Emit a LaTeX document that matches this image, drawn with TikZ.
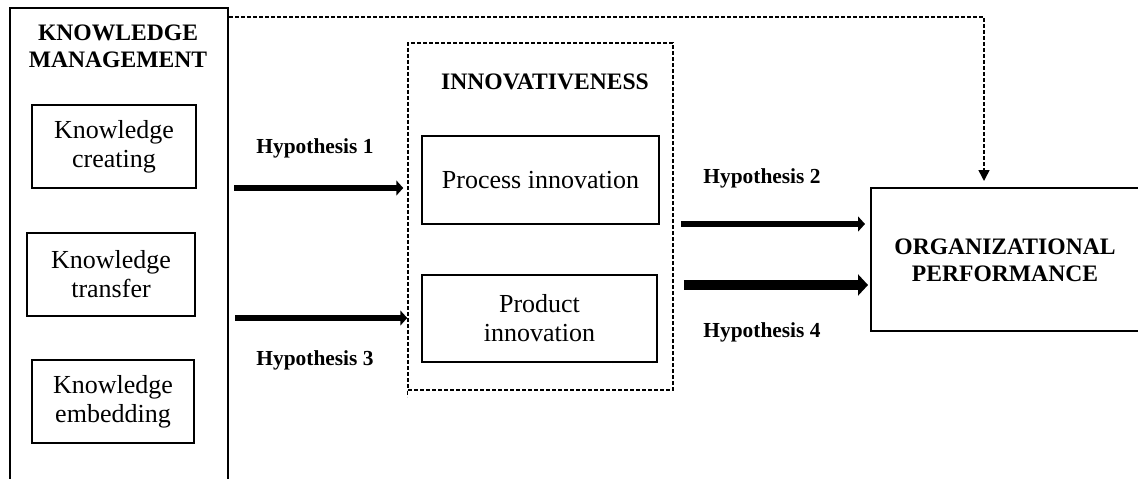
\documentclass[tikz,border=0pt]{standalone}
\usepackage{fontspec}
\setmainfont{Liberation Serif}
\usetikzlibrary{arrows.meta}

\tikzset{
  box/.style={draw, line width=2pt, inner sep=0pt, align=center,
    font=\fontsize{26}{29}\selectfont},
  group/.style={draw, dashed, line width=1.5pt, dash pattern=on 4pt off 2pt, inner sep=0pt},
  heading/.style={align=center, inner sep=0pt, font=\fontsize{23.6}{27}\selectfont\bfseries},
  hyp/.style={inner sep=0pt, font=\fontsize{21.4}{24}\selectfont\bfseries},
  thick arrow/.style={line width=6pt, -{Triangle[length=7pt,width=15pt]}},
  heavy arrow/.style={line width=9.5pt, -{Triangle[length=10pt,width=21pt]}},
  link/.style={dashed, dash pattern=on 4pt off 2pt, line width=1.5pt,
    -{Triangle[length=11pt,width=11pt]}}
}

\begin{document}
\begin{tikzpicture}[x=1pt, y=-1pt]
\useasboundingbox (0,0) rectangle (1138,479);

% Knowledge management block
\node[box, minimum width=218pt, minimum height=488pt, anchor=north west] (km) at (9,7) {};
\node[heading] (kmt) at (118,46.5) {KNOWLEDGE\\MANAGEMENT};
\node[box, minimum width=164pt, minimum height=83pt] (kc) at (114,146.5) {Knowledge\\creating};
\node[box, minimum width=168pt, minimum height=83pt] (kt) at (111,274.5) {Knowledge\\transfer};
\node[box, minimum width=162pt, minimum height=83pt] (ke) at (113,401.5) {Knowledge\\embedding};

% Innovativeness block
\node[group, minimum width=265pt, minimum height=347pt] (inn) at (540.5,216.5) {};
\draw[group] (inn.south west) -- ++(0,6);
\node[heading] (innt) at (545,82) {INNOVATIVENESS};
\node[box, minimum width=237pt, minimum height=88pt] (proc) at (540.5,180) {Process innovation};
\node[box, minimum width=235pt, minimum height=87pt] (prod) at (539.5,318.5) {Product\\innovation};

% Organizational performance
\node[box, minimum width=290pt, minimum height=143pt, anchor=north west] (op) at (870,187) {};
\node[heading] (opt) at (1005,260) {ORGANIZATIONAL\\PERFORMANCE};

% Hypothesis arrows
\coordinate (h1) at (0,188);
\coordinate (h3) at (0,318);
\coordinate (h2) at (0,224);
\coordinate (h4) at (0,285);
\draw[thick arrow, shorten <=5pt, shorten >=4pt] (km.east |- h1) -- (inn.west |- h1);
\draw[thick arrow, shorten <=6pt, shorten >=0pt] (km.east |- h3) -- (inn.west |- h3);
\draw[thick arrow, shorten <=7pt, shorten >=5pt] (inn.east |- h2) -- (op.west |- h2);
\draw[heavy arrow, shorten <=10pt, shorten >=2pt] (inn.east |- h4) -- (op.west |- h4);

\node[hyp] (l1) at (315,148) {Hypothesis 1};
\node[hyp] (l3) at (315,360) {Hypothesis 3};
\node[hyp] (l2) at (762,178) {Hypothesis 2};
\node[hyp] (l4) at (762,332) {Hypothesis 4};

% Direct effect of knowledge management on performance
\coordinate (top) at (0,17);
\coordinate (turn) at (984,17);
\draw[link, shorten >=6pt] (km.east |- top) -- (turn) -- (turn |- op.north);
\end{tikzpicture}
\end{document}
